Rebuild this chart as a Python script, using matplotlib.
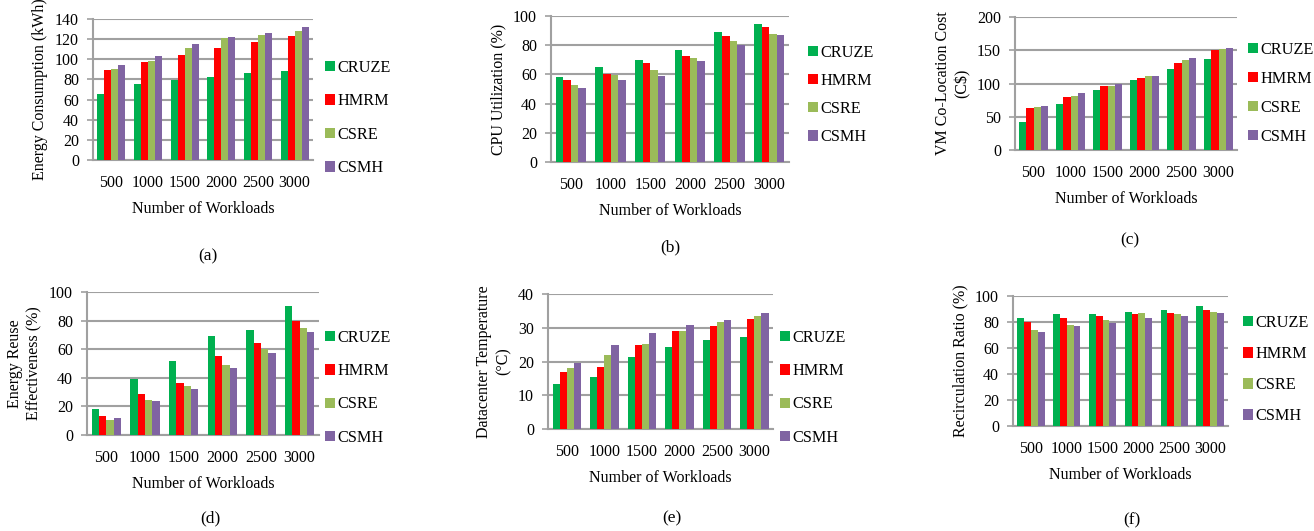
import numpy as np
import matplotlib.pyplot as plt

plt.rcParams['font.family'] = ['Liberation Serif', 'DejaVu Serif']
plt.rcParams['font.size'] = 11.5

workloads = ['500', '1000', '1500', '2000', '2500', '3000']
methods = ['CRUZE', 'HMRM', 'CSRE', 'CSMH']
colors = ['#00B050', '#FF0000', '#9BBB59', '#8064A2']

# (a) energy consumption
energy_cruze = [66, 75, 79, 82, 86, 88]
energy_hmrm = [89, 97, 104, 111, 117, 123]
energy_csre = [90, 98, 111, 121, 124, 128]
energy_csmh = [94, 103, 115, 122, 126, 132]

# (b) cpu utilization
cpu_cruze = [58.5, 65, 70, 77, 89, 94.5]
cpu_hmrm = [56, 60.5, 67.5, 72.5, 86.5, 92.5]
cpu_csre = [53, 59.5, 63, 71, 83, 88]
cpu_csmh = [51, 56, 59, 69, 80, 87]

# (c) vm co-location cost
cost_cruze = [42.5, 68.5, 89.5, 105, 122.5, 136.5]
cost_hmrm = [62.5, 80, 96.5, 108.5, 130.5, 150]
cost_csre = [64.5, 80.5, 96.5, 111, 135, 151.5]
cost_csmh = [66, 86, 98.5, 112, 138, 154]

# (d) energy reuse effectiveness
ere_cruze = [18, 39.5, 51.5, 69.5, 73.5, 90]
ere_hmrm = [13.5, 28.5, 36.5, 55.5, 64.5, 80]
ere_csre = [10.5, 24.5, 34.5, 49, 60, 75]
ere_csmh = [12, 23.5, 32, 47, 57, 72]

# (e) datacenter temperature
temp_cruze = [13.3, 15.3, 21.2, 24.2, 26.3, 27.3]
temp_hmrm = [16.8, 18.5, 24.8, 29.1, 30.4, 32.5]
temp_csre = [18.1, 22, 25.1, 28.9, 31.6, 33.5]
temp_csmh = [19.6, 25, 28.4, 30.9, 32.4, 34.5]

# (f) recirculation ratio
rr_cruze = [83.3, 85.8, 85.8, 88, 89.4, 92.2]
rr_hmrm = [80.3, 82.8, 84.4, 86.5, 87.3, 89.2]
rr_csre = [74.2, 77.4, 81.2, 87.2, 86, 87.4]
rr_csmh = [72, 76.7, 79.4, 83, 84.4, 87]

W, H = 1314, 531
fig = plt.figure(figsize=(W / 100, H / 100), dpi=100)

# data, ylabel, ymax, step, axes box (px), legend anchor (px), legend spacing, tag, tag pos
panels = [
    ([energy_cruze, energy_hmrm, energy_csre, energy_csmh], 'Energy Consumption (kWh)', 140, 20,
     (93, 19, 313, 160), (325, 60), 1.07, '(a)', (208, 256)),
    ([cpu_cruze, cpu_hmrm, cpu_csre, cpu_csmh], 'CPU Utilization (%)', 100, 20,
     (551, 16, 789, 162), (808, 45), 0.74, '(b)', (670, 247)),
    ([cost_cruze, cost_hmrm, cost_csre, cost_csmh], 'VM Co-Location Cost\n(C$)', 200, 50,
     (1015, 17, 1237, 150), (1248, 42), 0.80, '(c)', (1130, 240)),
    ([ere_cruze, ere_hmrm, ere_csre, ere_csmh], 'Energy Reuse\nEffectiveness (%)', 100, 20,
     (87, 292, 319, 435), (325, 330), 1.06, '(d)', (210, 518)),
    ([temp_cruze, temp_hmrm, temp_csre, temp_csmh], 'Datacenter Temperature\n(°C)', 40, 10,
     (548, 294, 773, 429), (780, 330), 1.06, '(e)', (672, 518)),
    ([rr_cruze, rr_hmrm, rr_csre, rr_csmh], 'Recirculation Ratio (%)', 100, 20,
     (1013, 296, 1228, 426), (1243, 315), 0.93, '(f)', (1132, 520)),
]

x = np.arange(len(workloads))
bw = 0.19
for series, ylabel, ymax, step, box, leg_xy, lsp, tag, tag_xy in panels:
    l, t, r, b = box
    ax = fig.add_axes([l / W, 1 - b / H, (r - l) / W, (b - t) / H])
    for i, (vals, name) in enumerate(zip(series, methods)):
        ax.bar(x + (i - 1.5) * bw, vals, bw, color=colors[i], label=name, zorder=3)
    ax.set_xlim(-0.5, len(workloads) - 0.5)
    ax.set_ylim(0, ymax)
    ax.set_yticks(np.arange(0, ymax + 1, step))
    ax.set_xticks(x)
    ax.set_xticklabels(workloads)
    ax.tick_params(axis='x', length=0, pad=11)
    ax.tick_params(axis='y', length=4, color='#A0A0A0', width=1.2, pad=6)
    ax.grid(axis='y', color='#A0A0A0', linewidth=1.5, zorder=0)
    for s in ['top', 'right']:
        ax.spines[s].set_visible(False)
    for s in ['left', 'bottom']:
        ax.spines[s].set_color('#A0A0A0')
        ax.spines[s].set_linewidth(1.5)
    ax.set_xlabel('Number of Workloads', labelpad=7)
    ax.set_ylabel(ylabel, linespacing=1.25, labelpad=5)
    ax.legend(loc='upper left', bbox_to_anchor=(leg_xy[0] / W, 1 - leg_xy[1] / H),
              bbox_transform=fig.transFigure, frameon=False, fontsize=11.7,
              handlelength=0.6, handleheight=0.6, handletextpad=0.15,
              labelspacing=lsp, borderpad=0, borderaxespad=0)
    fig.text(tag_xy[0] / W, 1 - tag_xy[1] / H, tag, ha='center', va='center', fontsize=12.5)

fig.savefig('out.png', dpi=100)
